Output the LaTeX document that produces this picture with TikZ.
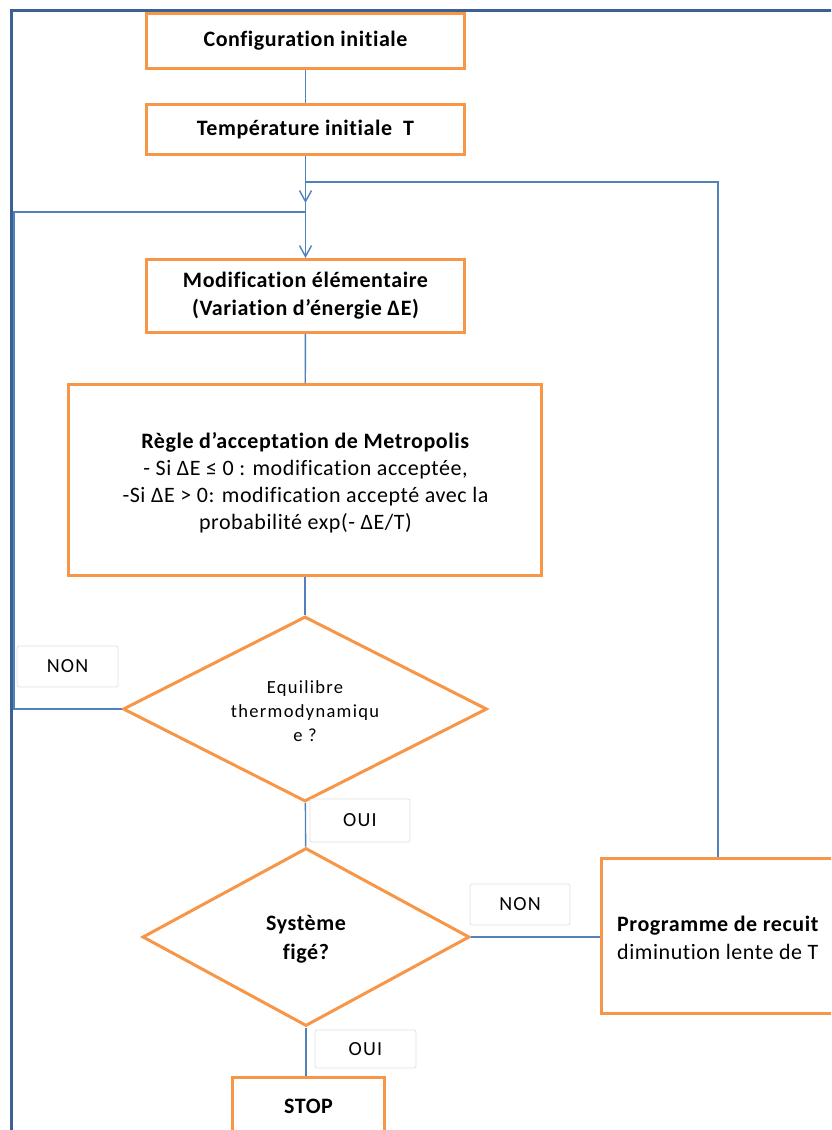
\documentclass[tikz,border=0pt]{standalone}
\usepackage{fontspec}
\setmainfont{Carlito}
\newfontfamily\fa[LetterSpace=2.6,Ligatures=NoCommon]{Carlito}
\newfontfamily\fb[LetterSpace=7,Ligatures=NoCommon]{Carlito}
\newfontfamily\fc[LetterSpace=6,Ligatures=NoCommon]{Carlito}
\usetikzlibrary{shapes.geometric,arrows.meta}
\definecolor{orng}{HTML}{F79646}
\definecolor{lnblue}{HTML}{4F81BD}
\definecolor{frameblue}{HTML}{3B6095}
\definecolor{lblgray}{HTML}{E2E2E2}
\tikzset{
  box/.style={draw=orng, line width=3pt, fill=white, rectangle, inner sep=0pt, align=center, font=\fa\bfseries\fontsize{22}{27}\selectfont},
  dec/.style={draw=orng, line width=3pt, fill=white, diamond, aspect=2, inner sep=0pt, align=center},
  conn/.style={draw=lnblue, line width=1.4pt},
  lbl/.style={draw=lblgray, line width=0.8pt, rounded corners=2pt, fill=white, inner sep=0pt, font=\fc\fontsize{20}{22}\selectfont},
  arr/.style={-{Straight Barb[length=11pt,width=12pt]}}
}
\begin{document}
\begin{tikzpicture}[x=1pt,y=-1pt]
\clip (0,0) rectangle (831,1130);
\fill[white] (0,0) rectangle (831,1130);
% frame
\draw[frameblue, line width=3pt] (11,1140) -- (11,10) -- (840,10);
% nodes
\node[box, minimum width=318pt, minimum height=55pt] (cfg) at (305.5,41) {Configuration initiale};
\node[box, minimum width=318pt, minimum height=50pt] (temp) at (305.5,129.5) {Température initiale\ \ T};
\node[box, minimum width=318pt, minimum height=73pt, font=\fa\bfseries\fontsize{22}{28}\selectfont] (modif) at (305.5,296) {Modification élémentaire\\(Variation d’énergie ΔE)};
\node[box, minimum width=473pt, minimum height=191pt] (regle) at (305,480) {};
\node[align=center, inner sep=0pt, font=\fa\fontsize{22}{27}\selectfont] (regletxt) at (305.5,483) {\textbf{Règle d’acceptation de Metropolis}\\- Si ΔE ≤ 0 : modification acceptée,\\-Si ΔE > 0: modification accepté avec la\\probabilité exp(- ΔE/T)};
\node[dec, minimum width=364pt, minimum height=185pt] (d1) at (305,709) {};
\node[align=center, inner sep=0pt, font=\fb\fontsize{18.5}{24}\selectfont] (d1txt) at (305,711) {Equilibre\\thermodynamiqu\\e ?};
\node[dec, minimum width=327pt, minimum height=178pt] (d2) at (306,937) {};
\node[align=center, inner sep=0pt, font=\fa\bfseries\fontsize{22}{29}\selectfont] (d2txt) at (306,939) {Système\\figé?};
\node[box, minimum width=260pt, minimum height=155pt] (prog) at (731,935.5) {};
\node[anchor=west, align=left, inner sep=0pt, font=\fa\fontsize{22}{28}\selectfont] (progtxt) at (617,938) {\textbf{Programme de recuit}\\diminution lente de T};
\node[box, minimum width=152pt, minimum height=57pt] (stop) at (308.5,1106) {STOP};
% coordinates
\coordinate (j1) at (305.5,182);
\coordinate (a1) at (305.5,203);
\coordinate (j2) at (305.5,212);
\coordinate (lc1) at (14,709);
\coordinate (lc2) at (14,212);
\coordinate (rc) at (718,182);
% connectors
\draw[conn] (cfg) -- (temp);
\draw[conn,arr] (temp) -- (a1);
\draw[conn,arr] (a1) -- (modif);
\draw[conn] (prog.north -| rc) -- (rc) -- (j1);
\draw[conn] (d1.west) -- (lc1) -- (lc2) -- (j2);
\draw[conn] (modif) -- (regle);
\draw[conn] (regle) -- (d1);
\draw[conn] (d1) -- (d2);
\draw[conn] (d2.east) -- (d2.east -| prog.west);
\draw[conn] (d2.south) -- (d2.south |- stop.north);
% labels
\node[lbl, minimum width=101pt, minimum height=41pt] (non1) at (67.5,666.5) {NON};
\node[lbl, minimum width=100pt, minimum height=43pt] (oui1) at (360,820.5) {OUI};
\node[lbl, minimum width=100pt, minimum height=41pt] (non2) at (520,904.5) {NON};
\node[lbl, minimum width=101pt, minimum height=38pt] (oui2) at (365.5,1049) {OUI};
\end{tikzpicture}
\end{document}
